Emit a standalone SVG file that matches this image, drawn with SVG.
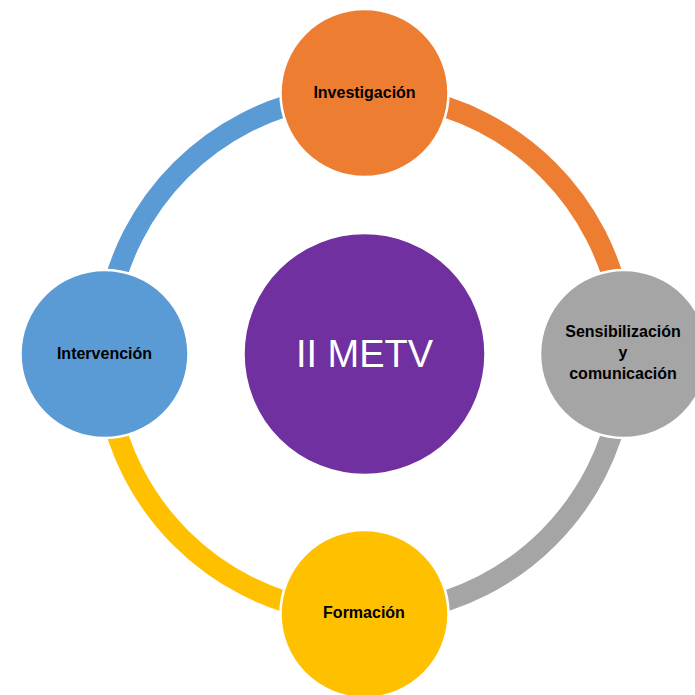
<svg xmlns="http://www.w3.org/2000/svg" width="695" height="695" viewBox="0 0 695 695">
<style>
.arc{fill:none;stroke-width:21;stroke-linecap:butt}
.node{stroke:#fff;stroke-width:2.5}
.lbl{font-family:"Liberation Sans",Arial,sans-serif;font-weight:bold;font-size:16px;fill:#000;text-anchor:middle}
.hub{font-family:"Liberation Sans",Arial,sans-serif;font-size:38px;fill:#fff;text-anchor:middle}
</style>
<rect width="695" height="695" fill="#fff"/>
<g id="connectors">
<path class="arc" stroke="#ED7D31" d="M409.65,97.95 A260,260 0 0 1 620.55,308.85"/>
<path class="arc" stroke="#A5A5A5" d="M620.55,399.15 A260,260 0 0 1 409.65,610.05"/>
<path class="arc" stroke="#FFC000" d="M319.35,610.05 A260,260 0 0 1 108.45,399.15"/>
<path class="arc" stroke="#5B9BD5" d="M108.45,308.85 A260,260 0 0 1 319.35,97.95"/>
</g>
<g id="center">
<circle class="node" cx="364.5" cy="354" r="121" fill="#7030A0"/>
<text class="hub" x="364.5" y="367">II METV</text>
</g>
<g id="investigacion">
<circle class="node" cx="364.5" cy="93" r="84" fill="#ED7D31"/>
<text class="lbl" x="364.5" y="98">Investigación</text>
</g>
<g id="sensibilizacion">
<circle class="node" cx="624" cy="354" r="84" fill="#A5A5A5"/>
<text class="lbl" x="623" y="337">Sensibilización</text>
<text class="lbl" x="623" y="358">y</text>
<text class="lbl" x="623" y="379">comunicación</text>
</g>
<g id="formacion">
<circle class="node" cx="364.5" cy="614" r="84" fill="#FFC000"/>
<text class="lbl" x="364" y="617.5">Formación</text>
</g>
<g id="intervencion">
<circle class="node" cx="104.5" cy="354" r="84" fill="#5B9BD5"/>
<text class="lbl" x="104.5" y="358.5">Intervención</text>
</g>
</svg>
